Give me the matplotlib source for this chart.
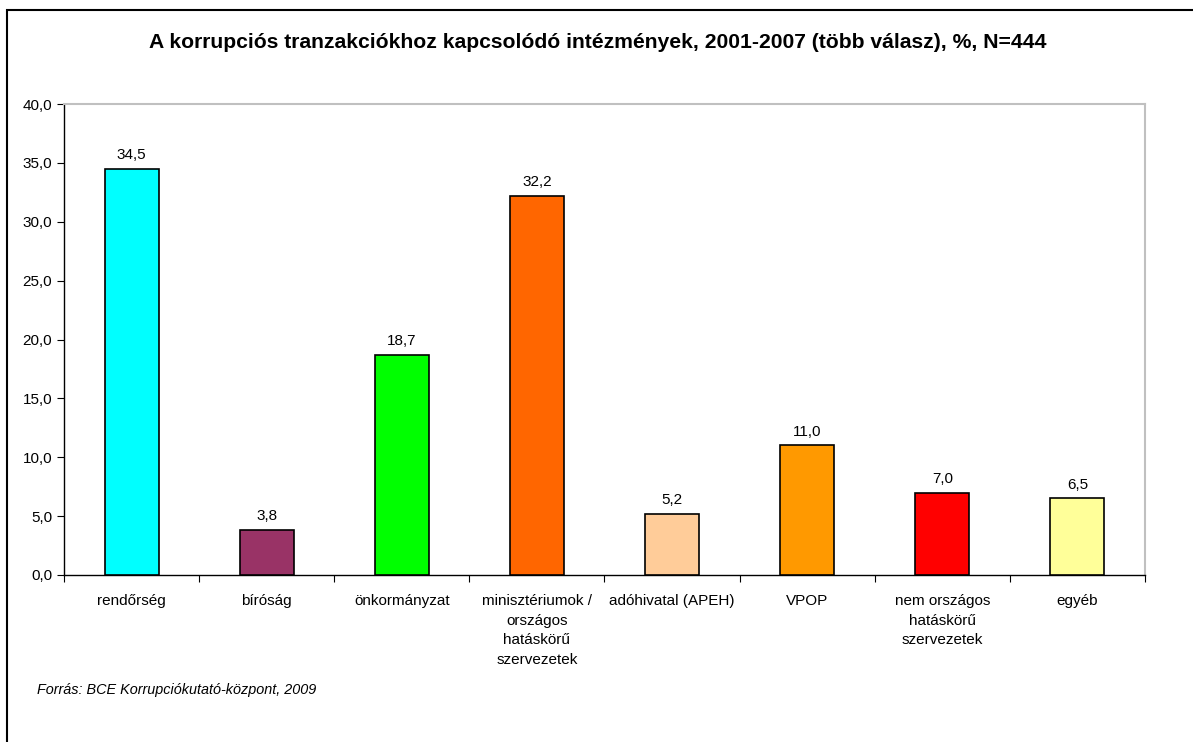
import numpy as np
import matplotlib.pyplot as plt
from matplotlib.patches import Rectangle

plt.rcParams['font.family'] = ['Liberation Sans', 'DejaVu Sans']

# Data
categories = ['rendőrség', 'bíróság', 'önkormányzat',
              'minisztériumok /\nországos\nhatáskörű\nszervezetek',
              'adóhivatal (APEH)', 'VPOP',
              'nem országos\nhatáskörű\nszervezetek', 'egyéb']
values = [34.5, 3.8, 18.7, 32.2, 5.2, 11.0, 7.0, 6.5]
colors = ['#00FFFF', '#993366', '#00FF00', '#FF6600',
          '#FFCC99', '#FF9900', '#FF0000', '#FFFF99']
yticks = [0, 5, 10, 15, 20, 25, 30, 35, 40]

fig = plt.figure(figsize=(11.93, 7.42), dpi=100)
W, H = 1193, 742

# outer frame (only top and left visible)
fig.add_artist(Rectangle((7 / W, -0.1), 1.2, (742 - 10) / H + 0.1,
                         transform=fig.transFigure, fill=False,
                         edgecolor='black', linewidth=1.5))

ax = fig.add_axes([64 / W, 1 - 575 / H, (1145 - 64) / W, (575 - 104) / H])

x = np.arange(len(categories))
ax.bar(x, values, width=0.4, color=colors, edgecolor='black', linewidth=1.2, zorder=3)

for xi, v in zip(x, values):
    ax.annotate(f'{v:.1f}'.replace('.', ','), (xi, v), xytext=(0, 5),
                textcoords='offset points', ha='center', va='bottom', fontsize=11)

ax.set_xlim(-0.5, len(categories) - 0.5)
ax.set_ylim(0, 40)
ax.set_yticks(yticks)
ax.set_yticklabels([f'{t:.1f}'.replace('.', ',') for t in yticks], fontsize=11)
ax.set_xticks(np.arange(len(categories) + 1) - 0.5)
ax.set_xticklabels([])
ax.set_xticks(x, minor=True)
ax.set_xticklabels(categories, minor=True, fontsize=11, linespacing=1.5,
                   va='top')
ax.tick_params(axis='x', which='minor', length=0, pad=14)
ax.tick_params(axis='x', which='major', length=5, direction='out')
ax.tick_params(axis='y', length=5, direction='out')

for s in ['top', 'right']:
    ax.spines[s].set_color('#C0C0C0')
    ax.spines[s].set_linewidth(1.5)
for s in ['left', 'bottom']:
    ax.spines[s].set_color('black')
    ax.spines[s].set_linewidth(1.0)

fig.text(598 / W, 1 - 43 / H,
         'A korrupciós tranzakciókhoz kapcsolódó intézmények, 2001-2007 (több válasz), %, N=444',
         ha='center', va='center', fontsize=15.2, fontweight='bold')
fig.text(37 / W, 1 - 690 / H, 'Forrás: BCE Korrupciókutató-központ, 2009',
         ha='left', va='center', fontsize=10.4, style='italic')

fig.savefig('out.png', dpi=100)
